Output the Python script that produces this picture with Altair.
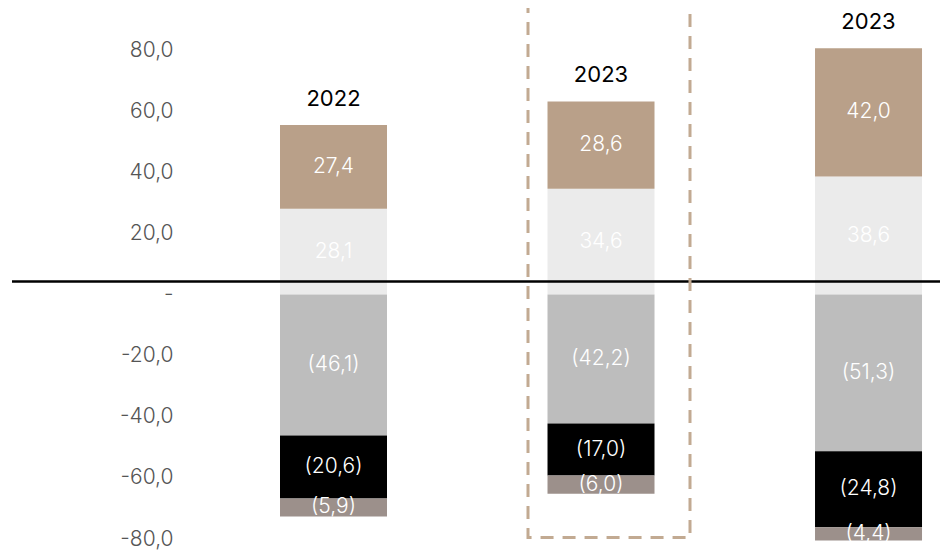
import altair as alt
import pandas as pd

# ---- data ----
bar_ids = ["b1", "b2", "b3"]
bar_labels = ["2022", "2023", "2023"]
series_names = ["light", "tan", "grey", "black", "taupe"]
light_vals = [28.1, 34.6, 38.6]      # first positive segment
tan_vals = [27.4, 28.6, 42.0]        # second positive segment
grey_vals = [-46.1, -42.2, -51.3]    # first negative segment
black_vals = [-20.6, -17.0, -24.8]   # second negative segment
taupe_vals = [-5.9, -6.0, -4.4]      # third negative segment
series_colors = ["#ebebeb", "#b9a089", "#bdbdbd", "#000000", "#9c908b"]
zero_line_value = 4.3
highlight_bottom = -79.5
y_ticks = [-80, -60, -40, -20, 0, 20, 40, 60, 80]

series_values = [light_vals, tan_vals, grey_vals, black_vals, taupe_vals]

rows = []
for i, bid in enumerate(bar_ids):
    pos = 0.0
    neg = 0.0
    for s, vals in zip(series_names, series_values):
        v = vals[i]
        if v >= 0:
            y0, y1 = pos, pos + v
            pos = y1
            lab = f"{v:.1f}".replace(".", ",")
        else:
            y0, y1 = neg, neg + v
            neg = y1
            lab = f"({abs(v):.1f})".replace(".", ",")
        rows.append({"bar": bid, "series": s, "y0": y0, "y1": y1,
                     "mid": (y0 + y1) / 2, "label": lab})
seg = pd.DataFrame(rows)

tops = pd.DataFrame({
    "bar": bar_ids,
    "cat": bar_labels,
    "top": [l + t for l, t in zip(light_vals, tan_vals)],
})

W, H = 932, 543
FONT = "Inter"

xscale = alt.Scale(domain=bar_ids, paddingInner=0.6, paddingOuter=0.542, align=0.938)
yscale = alt.Scale(domain=[-83.9, 93.75], nice=False, zero=False)

x_enc = alt.X("bar:N", scale=xscale, axis=None, sort=bar_ids)

bars = alt.Chart(seg).mark_bar(size=107).encode(
    x=x_enc,
    y=alt.Y("y0:Q", scale=yscale, title=None,
            axis=alt.Axis(values=y_ticks, domain=False, ticks=False, tickSize=0,
                          grid=False, labelPadding=0, offset=-165,
                          labelFont=FONT, labelFontSize=21, labelFontWeight=300,
                          labelColor="#555555",
                          labelExpr="datum.value == 0 ? '-' : replace(replace(format(datum.value, '.1f'), '.', ','), '\u2212', '-')")),
    y2="y1:Q",
    color=alt.Color("series:N", scale=alt.Scale(domain=series_names, range=series_colors), legend=None),
)

seg_text = alt.Chart(seg).mark_text(
    color="white", font=FONT, fontSize=21, fontWeight=300, baseline="middle", align="center"
).encode(
    x=x_enc,
    y=alt.Y("mid:Q", scale=yscale),
    text="label:N",
)

cat_text = alt.Chart(tops).mark_text(
    color="black", font=FONT, fontSize=22, fontWeight=400, baseline="bottom", align="center", dy=-14
).encode(
    x=x_enc,
    y=alt.Y("top:Q", scale=yscale),
    text="cat:N",
)

zero_rule = alt.Chart(pd.DataFrame({"v": [zero_line_value]})).mark_rule(
    color="black", strokeWidth=2.5
).encode(
    y=alt.Y("v:Q", scale=yscale),
    x=alt.value(4),
    x2=alt.value(W),
)

highlight = alt.Chart(pd.DataFrame({"b": [highlight_bottom]})).mark_rect(
    fill=None, filled=False, stroke="#c2aa92", strokeWidth=3, strokeDash=[13, 9]
).encode(
    x=alt.value(520),
    x2=alt.value(682),
    y=alt.Y("b:Q", scale=yscale),
    y2=alt.value(-30),
)

chart = alt.layer(bars, seg_text, cat_text, zero_rule, highlight).properties(
    width=W, height=H, padding=0, background="white",
    autosize=alt.AutoSizeParams(type="none")
).configure_view(stroke=None)

chart.save("out.html", embed_options={"renderer": "svg", "actions": False})
